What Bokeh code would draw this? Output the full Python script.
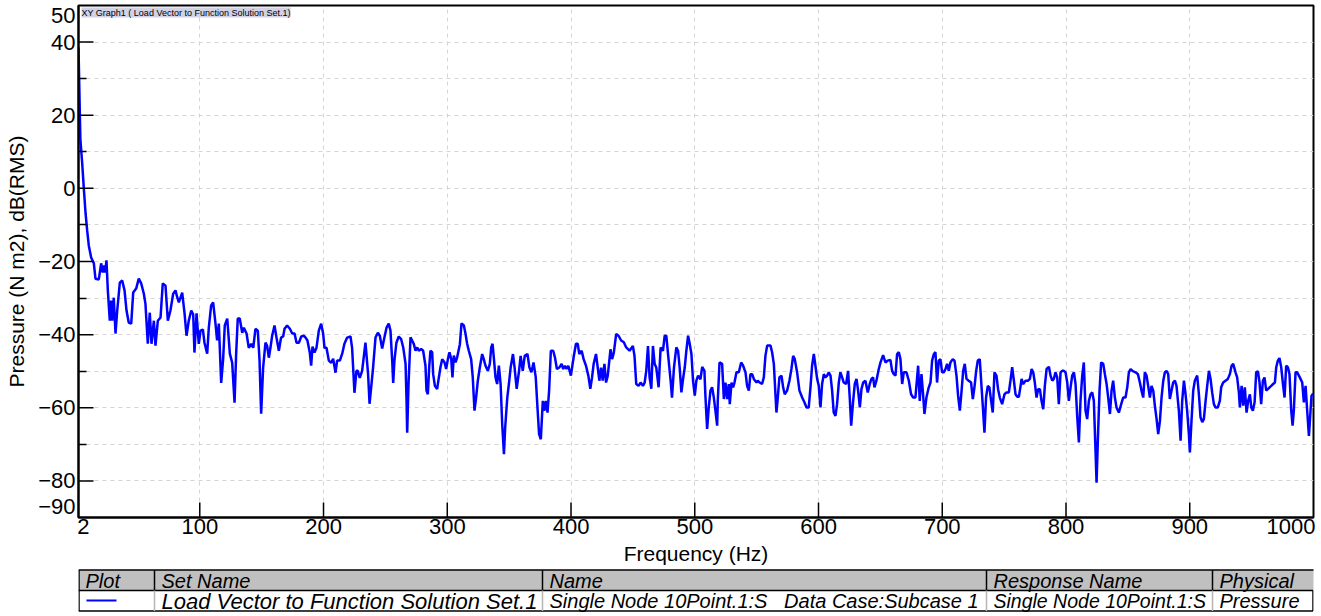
import math
from bokeh.plotting import figure
from bokeh.models import Label, FixedTicker, Range1d
from bokeh.layouts import column
from bokeh.core.properties import value
from bokeh.embed import file_html
from bokeh.resources import INLINE

# ---------------- data ----------------
freq_hz = [
    2, 3.5, 5, 6.3, 7.7, 9, 10.3, 12.2, 14.4, 15.7, 18.4, 20.3, 21.6, 22.8, 23.6, 24.6, 25.7, 27.3, 28.4, 29.2,
    30.5, 31.9, 33.3, 35.4, 37.3, 39.2, 40.8, 42.6, 44.6, 46.2, 48.6, 50.7, 52.7, 54.8, 56.1, 58, 59.6, 61, 62.9, 64.2,
    66.1, 68.3, 70.1, 72.3, 74.2, 76.3, 78.5, 80.4, 81.7, 83.1, 85.8, 87.7, 89.3, 91.1, 93.1, 94.7, 95.7, 97.4, 99.2, 100.6,
    102.5, 103.8, 106, 107.3, 109.2, 110.8, 112.7, 114, 115.4, 117.3, 118.9, 120.2, 122.2, 124.3, 126.2, 128.1, 129.4, 130.7, 132.3, 134.3,
    135.6, 137.8, 139.6, 141.6, 143.2, 145, 146.9, 148.3, 149.6, 151.2, 153.1, 154.4, 155.8, 157.1, 158.5, 160.4, 162, 163.9, 165.7, 167.4,
    168.5, 170.6, 172.8, 174.7, 176.6, 178.2, 180.1, 182, 184.2, 185.5, 187, 188.9, 190, 191.1, 192.7, 194.3, 196.2, 198.1, 199.7, 200.8,
    202.4, 204.3, 206.2, 207.8, 209.7, 211, 213.2, 215.1, 216.9, 219.1, 221.8, 223.1, 225, 226.6, 227.7, 229.3, 231.2, 233.9, 236, 237.2,
    238.8, 240.1, 242, 243.9, 245.5, 247.4, 248.7, 250.9, 252.7, 254.1, 255.5, 256.3, 257.3, 258.9, 260.8,
    262.7, 264.4, 266.3, 267.1, 267.6, 268.7, 270.3, 271.6, 273, 274.3, 275.7, 277, 278.9, 280.5, 282.4, 283.2, 284.3, 285.4, 286.4, 287.8,
    288.6, 290, 291.8, 293.2, 294.5, 295.9, 297.8, 299.1, 300.5, 301.8, 303.2, 304.2, 305.3, 306.7, 308, 310.2, 311.5, 313.4, 314.7, 316,
    317.4, 319.3, 320.6, 322, 323.3, 324.7, 326.3, 328.2, 329.5, 330.9, 332.8, 334.4, 335.5, 336.6, 337.6, 339, 340.3, 341.7, 343.1, 344.4,
    345.8, 346.8, 348.5, 349.8, 351.2, 353.1, 354.4, 356.1, 358, 359.3, 361, 362.6, 364.8, 366.4, 368, 369.7, 371.5, 372.9, 374.2, 375.6,
    377.2, 378.3, 379.6, 381, 382.3, 383.7, 385.6, 387, 388.6, 390.5, 392.4, 393.7, 395.1, 396.4, 397.8, 399.9, 402.1, 404, 405.4, 406.7,
    408.6, 410.2, 412.1, 414, 415.6, 417, 418.3, 420.2, 421.6, 422.9, 424.3, 425.6, 427, 428.3, 429.7, 431.9, 433.2, 434.6, 436.5, 438.4,
    440.5, 442.7, 444.6, 447.3, 450, 451.3, 452.7, 454.6, 456.2, 458.1, 459.5, 460.8, 462.2, 463.5, 464.9, 466.2, 467.6, 468.9, 470.8, 472.4,
    474.3, 475.7, 477, 478.4, 480.5, 481.6, 483.2, 485.1, 486.5, 487.8, 489.2, 490.5, 491.9, 493.2, 494.6, 495.9, 497.3, 498.6, 500, 501.3,
    502.7, 504.6,
    506, 507.8, 508.6, 510, 511.3, 512.7, 514, 515.4, 516.7, 518.1, 518.6, 520, 522.1, 523.5, 524.8, 526.2, 527.5, 528.3, 529.7, 531,
    532.1, 533.7, 535.6, 537.5, 539.1, 541, 542.3, 543.7, 545, 546.4, 547.7, 549.9, 550.9, 552.5, 554.4, 555.8, 557.1, 558.5, 561.2, 562.5,
    563.9, 565.2, 566, 567.1, 568.4, 570.1, 571.4, 572.7, 574.6, 576.5, 578.1, 579.5, 580.8, 582.7, 584.6, 586.8, 588.6, 590.3, 592.1, 593.5,
    594.8, 596.2, 597.5, 598.9, 600.2, 601.6, 602.9, 604.3, 605.6, 607, 608.3, 609.7, 611, 612.3, 613.7, 615, 616.4, 617.7, 619.1, 620.4,
    622.3, 623.9, 625.3, 626.4, 628, 629.3, 630.7, 632, 633.4, 634.7, 636.1, 637.9, 639.8, 641.4, 642.8, 644.1, 645.2, 646.8, 648.7, 650.1,
    652.2, 654.1, 656, 658.1, 659.5, 660.8, 662.2, 663.5, 664.9, 666.2, 667.6, 668.9, 671.1, 673, 674.8, 676.5, 678.3, 679.7, 680.5, 681.8,
    683.2, 684.5, 685.6, 687.2, 689.1, 690.5, 691.8, 693.2, 694.5, 695.8, 697.2, 698.5, 699.9, 701.2, 702.6, 703.9, 705.3, 706.6, 708.5, 709.9,
    711.5, 712.8, 714.2, 715.5, 716.9, 718.2, 719.6, 721.4, 723.3, 724.7, 726, 727.4, 728.7, 730.3, 731.7, 733, 734.1, 735.4, 736.8, 738.1,
    739.5, 740.8, 742.2, 743.8, 745.1, 746.5, 748.4, 750.3, 751.9, 753.8, 755.1,
    756.5, 757.9, 759.2, 760.6, 761.9, 763.3, 764.1, 765.4, 767.3, 769.2, 770.8, 772.2, 773.5, 774.8, 776.2, 777.5, 778.9, 780.2, 781.6, 782.9,
    784.3, 786.2, 787.5, 788.9, 790.2, 791.5, 792.9, 794.2, 795.6, 796.9, 798.3, 799.6, 801, 802.3, 803.7, 805, 806.4, 807.7, 809.1, 810.4,
    811.7, 813.1, 814.4, 815.8, 817.1, 818.5, 819.8, 821.2, 822.5, 823.9, 824.7, 825.8, 827.1, 828.4, 830.1, 831.4, 832.8, 834.1, 835.5, 836.8,
    838.1, 839.5, 840.8, 842.7, 844.6, 846.2, 848.1, 849.5, 850.8, 852.2, 854, 856.2, 858.1, 859.7, 861, 862.4, 863.7, 865.1, 866.4, 867.8,
    869.1, 870.5, 871.8, 873.2, 874.5, 875.9, 877.2, 878.6, 879.9, 881.2, 882.6, 883.9, 885.3, 886.6, 888, 889.3, 891.2, 892.6, 893.9, 895.3,
    896.6, 897.9, 899.3, 900.1, 901.4, 902.8, 904.1, 906, 907.4, 908.7, 910.1, 911.4, 912.8, 914.1, 915.5, 916.8, 918.1, 919.5, 920.8, 922.7,
    924.3, 925.4, 927, 928.9, 930.8, 932.4, 933.8, 935.1, 937, 938.3, 939.7, 940.5, 941.9, 943.2, 944.5, 945.9, 947.2, 948.6, 949.7, 951,
    952.4, 953.7, 955.1, 956.4, 957.7, 959.1, 960.4, 961.8, 963.1, 964.5, 965.8, 967.4, 968.8, 969.9, 971.2, 972.5, 973.9, 975.2, 976.6, 977.9,
    979.3, 980.6, 982, 983.1, 984.1, 985.5, 986.8, 988.2, 989.5, 990.9, 992.2, 993.6, 994.9, 996.3, 997.6, 998.4, 999.8,
]

pressure_db = [
    38.5, 13.5, 6.8, 0, -6.8, -11.5, -15.6, -18.9, -20.5, -24.7, -24.9, -20.5, -23, -21.1, -23, -19.7, -27.9, -36.2, -30.7, -36.2,
    -29.9, -39.7, -33.4, -25.8, -25.2, -27.9, -33.4, -36.7, -37, -28.5, -27.4, -24.7, -26, -28.8, -31.6, -42.5, -34, -42.5, -36.2, -43,
    -36.2, -35.3, -26, -26.6, -36.2, -33.4, -28.8, -27.9, -29.7, -31.2, -28.5, -34.2, -40.3, -36.2, -33.4, -34.5, -44.9, -34.2, -42.5, -38.9,
    -38.6, -42.2, -45.2, -38.1, -32, -31.2, -37, -41.6, -37, -53.2, -46.6, -37.5, -35.6, -45.2, -47.7, -58.6, -45.2, -35.6, -35.6, -39.5,
    -38.1, -39.7, -43.6, -42.5, -43.6, -38.4, -38.9, -47.1, -61.6, -49, -42.2, -43, -46.3, -43.6, -40.3, -37.5, -40.8, -44.4, -40.8, -40.5,
    -38.4, -37.5, -38.4, -39.7, -39.7, -42.2, -42.2, -40.5, -40.3, -40.8, -41.6, -44.9, -48.5, -43.3, -44.9, -43.6, -38.9, -37, -39.7, -43.6,
    -43.6, -47.1, -47.7, -46.6, -50.4, -47.1, -47.1, -45.2, -42.5, -40.8, -40.5, -43.6, -55.9, -49.9, -49.9, -51.8, -49.9, -42.2, -50.7, -58.9,
    -53.4, -48.8, -40.8, -39.5, -40.3, -43.8, -41.6, -38.1, -37, -38.9, -47.1, -53.2, -47.1, -42.2, -40.5,
    -41.2, -43.5, -48, -58.1, -66.8, -53.5, -40.7, -41.6, -42.6, -44.4, -43.5, -44.4, -43.9, -44.4, -48.5, -55.3, -56.3, -48.9, -44.4, -44.8,
    -50.8, -54, -54.9, -51.7, -48.9, -46.7, -47.6, -49.4, -46.7, -44.8, -46.7, -51.7, -45.7, -47.6, -46.2, -42.6, -36.9, -37.5, -39.7, -42.4,
    -44.4, -46.7, -51.7, -60.8, -57.2, -52.6, -49, -45.3, -46.7, -48.5, -49.9, -48, -43.5, -42.5, -46.2, -51.7, -53.5, -48.5, -53.5, -64.5,
    -72.7, -65.4, -57.2, -53.5, -49, -45.3, -49, -54.8, -49.9, -45.8, -49.9, -45.8, -45.3, -49, -50.3, -47.6, -51.7, -60, -67.2, -68.6,
    -58.1, -60.8, -58.1, -61.3, -55.3, -44.4, -44.4, -46.2, -49.4, -49, -48, -49.4, -48.5, -49.4, -48.5, -51.2, -46.2, -42.5, -42.5, -45.3,
    -44.4, -46.7, -48.5, -51.2, -54.8, -51.7, -48, -45.3, -49, -52.6, -49, -52.6, -48, -53.1, -51.2, -44, -46.7, -44.9, -39.8, -40.3,
    -41.6, -42.1, -43.5, -44.4, -43.1, -45.8, -53.5, -54, -53.1, -54, -53.1, -49.9, -43.1, -51.7, -54.8, -43.1, -48, -49, -54.4, -43.5,
    -44.4, -40.3, -40.3, -45.3, -52.6, -57.2, -49, -43.5, -44.4, -49, -55.8, -52.2, -49, -44.4, -40.3, -42.5, -45.3, -52.6, -56.7, -52.6,
    -51.2, -52.2,
    -48.8, -49.9, -56.7, -65.8, -59.9, -55.3, -54.4, -57.2, -60.8, -64.9, -58.1, -47.6, -48, -57.6, -53.1, -57.6, -53.5, -59, -53.1, -54.4,
    -53.1, -50.3, -50.3, -47.6, -48.5, -50.3, -54, -55.3, -50.8, -50.8, -52.1, -53.1, -52.6, -53.1, -53.5, -51.7, -45.8, -43, -43, -44.8,
    -48, -56.3, -61.3, -57.2, -51.7, -51.2, -54.4, -56.3, -55.3, -52.6, -49.4, -45.8, -46.7, -50.3, -55.3, -57.2, -58.5, -59.9, -59.9, -54.4,
    -48.5, -45.3, -48.5, -52.1, -54, -59.9, -53.5, -50.8, -51.7, -51.2, -50.3, -51.2, -55.3, -61.3, -62.2, -59, -53.1, -50.3, -51.7, -53.1,
    -53.5, -49.9, -57.6, -64.9, -58.1, -53.5, -52.1, -55.3, -59.9, -54.9, -53.1, -52.6, -55.8, -53.5, -52.1, -51.7, -54.4, -52.6, -49.4, -47.6,
    -45.6, -47.6, -47.1, -46.9, -49.9, -50.8, -51.2, -45.3, -44.8, -46.7, -53.5, -50.3, -50.3, -52.6, -56.3, -57.2, -57.2, -51.7, -48.5, -58.1,
    -50.8, -56.3, -61.7, -57.2, -54.4, -53.1, -47.1, -45.3, -44.8, -53.1, -47.1, -46.7, -50.3, -50.3, -49.4, -48, -49.9, -47.6, -46.7, -47.1,
    -51.2, -56.7, -60.8, -55.8, -49.9, -48, -52.1, -52.6, -53.1, -57.6, -54.4, -49.9, -47.1, -46.7, -54, -60.8, -66.8, -57.2, -54, -54.4,
    -58.1, -61.3, -50.3, -51.2, -54.9, -57.2, -59, -56.3, -55.8, -55.8, -52.6,
    -48.9, -52.6, -56.3, -57, -57, -54, -52.1, -53.5, -52.6, -52.6, -52.1, -49.4, -50.3, -53.1, -57.2, -54.9, -54.9, -58.1, -60.4, -54,
    -49.4, -48.8, -51.2, -52.6, -52.1, -50.3, -51.7, -59, -50.3, -49.9, -49.9, -50.3, -53.1, -58.1, -54.4, -51.2, -50.3, -53.5, -62.6, -69.5,
    -58.1, -51.2, -47.6, -60.8, -63.1, -58.1, -56.3, -55.8, -58.1, -72.2, -80.5, -68.1, -55.3, -47.6, -48, -50.8, -53.5, -57.2, -61.7, -55.3,
    -52.6, -57.2, -59.9, -61.3, -59, -57.2, -57.2, -54.4, -50.3, -49.4, -50, -50.3, -50.8, -53.1, -55.3, -57.2, -50.3, -51.2, -54, -57.2,
    -54, -55.3, -59.4, -63.1, -67.2, -63.6, -57.2, -52.6, -50.3, -49.9, -50.8, -57.6, -55.3, -53.1, -52.6, -54, -60.8, -69, -58.1, -52.6,
    -56.3, -60.8, -67.2, -72.2, -63.6, -55.3, -52.6, -51.2, -56.3, -62.6, -63.9, -63.1, -58.1, -54, -49.9, -52.1, -55.8, -59, -59.9, -59.9,
    -58.1, -54.4, -53.1, -52.6, -52.1, -50.8, -48.5, -48, -50.3, -51.7, -55.8, -59.9, -54, -59.4, -54.4, -61.3, -58.1, -56.3, -59.9, -60.8,
    -58.5, -50.3, -50, -53.1, -59, -52.6, -51.7, -55.3, -54.9, -54.4, -54, -53.5, -53.1, -48.9, -47.1, -46.4, -48.9, -53.1, -57.2, -48.5,
    -48.9, -50.8, -60.8, -64.9, -60.8, -50.3, -50.3, -51.2, -52.1, -53.1, -58.5, -54, -60.8, -67.7, -60.8, -56.7, -56.1,
]

# tick marks (values) and tick labels
x_major_ticks = [100, 200, 300, 400, 500, 600, 700, 800, 900]
x_tick_labels = ["2", "100", "200", "300", "400", "500", "600", "700", "800", "900", "1000"]
y_major_ticks = [40, 20, 0, -20, -40, -60, -80]
y_minor_ticks = [30, 10, -10, -30, -50, -70]
y_grid_ticks = [40, 30, 20, 10, 0, -10, -20, -30, -40, -50, -60, -70, -80]
y_tick_labels = ["50", "40", "20", "0", "\u221220", "\u221240", "\u221260", "\u221280", "\u221290"]

# where each tick label is anchored (edge labels are nudged inside the range ends, as in the original)
x_label_pos = [6.0, 100, 200, 300, 400, 500, 600, 700, 800, 900, 981.8]
y_label_pos = [47.4, 40, 20, 0, -20, -40, -60, -80, -87.0]

x_title = "Frequency (Hz)"
y_title = "Pressure (N m2), dB(RMS)"
graph_title = "XY Graph1 ( Load Vector to Function Solution Set.1)"

NB = "\u00a0"
table_headers = ["Plot", "Set Name", "Name", "Response Name", "Physical"]
table_values = ["", "Load Vector to Function Solution Set.1",
                "Single Node 10Point.1:S" + NB * 3 + "Data Case:Subcase 1",
                "Single Node 10Point.1:S", "Pressure"]

FONT = "Liberation Sans"
W = 1318
LEFT, RIGHT_BORDER = 78, 5

# ---------------- main chart ----------------
p = figure(width=W, height=568, x_range=Range1d(2, 1000), y_range=Range1d(-90, 50),
           output_backend="svg", toolbar_location=None,
           min_border_left=LEFT, min_border_right=RIGHT_BORDER, min_border_top=5, min_border_bottom=51)
p.background_fill_color = "white"
p.border_fill_color = "white"
p.outline_line_color = "black"
p.outline_line_width = 2

p.xgrid.ticker = FixedTicker(ticks=x_major_ticks)
p.ygrid.ticker = FixedTicker(ticks=y_grid_ticks)
for g in (p.xgrid[0], p.ygrid[0]):
    g.grid_line_color = "#d4d4d4"
    g.grid_line_dash = "4 4"
    g.grid_line_width = 1

p.line(freq_hz, pressure_db, line_color="#0000ff", line_width=2.5)

# inward major tick marks (15 px) drawn from the axes
p.ray(x=[2] * len(y_major_ticks), y=y_major_ticks, length=15, length_units="screen", angle=0,
      line_color="black", line_width=1.5)
p.ray(x=x_major_ticks, y=[-90] * len(x_major_ticks), length=15, length_units="screen", angle=math.pi / 2,
      line_color="black", line_width=1.5)

xa = p.xaxis[0]
xa.ticker = FixedTicker(ticks=x_label_pos)
xa.major_label_overrides = dict(zip(x_label_pos, x_tick_labels))
xa.axis_line_width = 2
xa.major_tick_line_color = None
xa.major_tick_in = 0
xa.major_tick_out = 0
xa.minor_tick_line_color = None
xa.minor_tick_in = 0
xa.minor_tick_out = 0
xa.major_label_standoff = 1
xa.major_label_text_font = FONT
xa.major_label_text_font_size = "22px"
xa.major_label_text_color = "black"
xa.axis_label = x_title
xa.axis_label_standoff = 5
xa.axis_label_text_font = FONT
xa.axis_label_text_font_style = "normal"
xa.axis_label_text_font_size = "21px"
xa.axis_label_text_color = "black"

ya = p.yaxis[0]
ya.ticker = FixedTicker(ticks=y_label_pos, minor_ticks=y_minor_ticks)
ya.major_label_overrides = dict(zip(y_label_pos, y_tick_labels))
ya.axis_line_width = 2
ya.major_tick_line_color = None
ya.major_tick_in = 0
ya.major_tick_out = 0
ya.minor_tick_in = 8
ya.minor_tick_out = 0
ya.minor_tick_line_width = 1.5
ya.minor_tick_line_color = "black"
ya.major_label_standoff = 3
ya.major_label_text_font = FONT
ya.major_label_text_font_size = "22px"
ya.major_label_text_color = "black"
ya.axis_label = y_title
ya.axis_label_standoff = 7
ya.axis_label_text_font = FONT
ya.axis_label_text_font_style = "normal"
ya.axis_label_text_font_size = "21px"
ya.axis_label_text_color = "black"

# graph title tag (inside the frame, top-left)
p.add_layout(Label(x=2, y=50, x_offset=3, y_offset=-2, text=graph_title, text_align="left",
                   text_baseline="top", text_font=FONT, text_font_size="9px", text_color="black",
                   background_fill_color="#d2d2e6", background_fill_alpha=1.0))

# ---------------- legend table (coordinates are pixel positions on the page) ----------------
t = figure(width=W, height=44, x_range=Range1d(LEFT, W - RIGHT_BORDER), y_range=Range1d(612, 568),
           output_backend="svg", toolbar_location=None,
           min_border_left=LEFT, min_border_right=RIGHT_BORDER, min_border_top=0, min_border_bottom=0,
           x_axis_location=None, y_axis_location=None)
t.grid.visible = False
t.outline_line_color = None
t.background_fill_color = "white"
t.border_fill_color = "white"

col_edges = [78.5, 154, 542, 986, 1212]
x_end = 1312.5
top_y, mid_y, bot_y = 569.5, 590, 610.5

t.quad(left=[78], right=[W], bottom=[mid_y], top=[top_y], fill_color="#c0c0c0", line_color=None)
t.segment(x0=[78, 78, 78], y0=[top_y, mid_y, bot_y], x1=[W, x_end, x_end], y1=[top_y, mid_y, bot_y],
          line_color="black", line_width=1.5)
t.segment(x0=col_edges, y0=[top_y] * 5, x1=col_edges, y1=[mid_y] * 5,
          line_color="black", line_width=1.5)
t.segment(x0=col_edges[1:], y0=[mid_y] * 4, x1=col_edges[1:], y1=[bot_y] * 4,
          line_color="#b5b5b5", line_width=1.5)
t.segment(x0=[78.5, x_end], y0=[mid_y, mid_y], x1=[78.5, x_end], y1=[bot_y, bot_y],
          line_color="black", line_width=1.5)

text_x = [85, 161, 549, 993, 1219]
t.text(x=text_x, y=[580] * 5, text=table_headers, text_font=value(FONT), text_font_size=value("20px"),
       text_font_style="italic", text_baseline="middle", text_align="left", text_color="black")
body_sizes = ["22px", "20px", "19.5px", "20px"]
for i in range(1, 5):
    t.text(x=[text_x[i]], y=[600.5], text=[table_values[i]], text_font=value(FONT),
           text_font_size=value(body_sizes[i - 1]), text_font_style="italic",
           text_baseline="middle", text_align="left", text_color="black")
t.line(x=[86, 116], y=[600, 600], line_color="#0000ff", line_width=2)

layout = column(p, t, spacing=0)
open("out.html", "w").write(file_html(layout, INLINE))
